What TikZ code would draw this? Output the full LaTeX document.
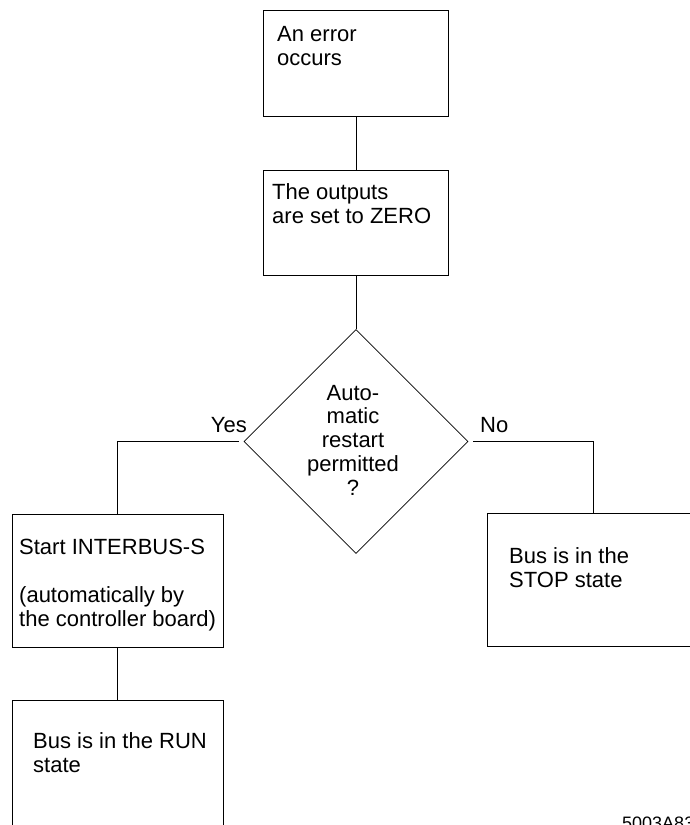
\documentclass[tikz,border=0pt]{standalone}
\usepackage{fontspec}
\setmainfont{Liberation Sans}
\usetikzlibrary{positioning,shapes.geometric}

\begin{document}
\begin{tikzpicture}[x=1pt, y=-1pt,
  box/.style={draw, line width=0.8pt, minimum width=185pt, minimum height=106pt, inner sep=0pt},
  wide/.style={box, minimum width=211pt, minimum height=133pt},
  dec/.style={draw, diamond, aspect=1, line width=0.7pt, minimum size=224pt, inner sep=0pt},
  txt/.style={anchor=base west, align=left, inner sep=0pt, font=\fontsize{22}{23.75}\selectfont},
  lnk/.style={line width=0.8pt}]
\clip (0,0) rectangle (690,825);
\node[box] (err) at (356,63) {};
\node[box, minimum height=105pt, below=54pt of err] (zero) {};
\node[dec, below=53pt of zero] (ask) {};
\node[wide] (start) at (117.5,580.5) {};
\node[wide] (stop) at (593,580) {};
\node[wide, below=53pt of start] (run) {};
\node[txt] (errtxt) at (277,65) {An error\\occurs};
\node[txt] (zerotxt) at (272,223) {The outputs\\are set to ZERO};
\node[txt, anchor=base, align=center] (asktxt) at (353,495) {Auto-\\matic\\restart\\permitted\\?};
\node[txt, anchor=base east] (yes) at (247,432) {Yes};
\node[txt] (no) at (480,432) {No};
\node[txt] (starttxt) at (19,626) {Start INTERBUS-S\\[23.75pt](automatically by\\the controller board)};
\node[txt] (stoptxt) at (509,587) {Bus is in the\\STOP state};
\node[txt] (runtxt) at (33,772) {Bus is in the RUN\\state};
\node[txt, font=\fontsize{18}{20}\selectfont] (code) at (622,829) {5003A83};
\draw[lnk] (err) -- (zero);
\draw[lnk] (zero) -- (ask);
\draw[lnk, shorten <=5pt] (ask.west) -| (start.north);
\draw[lnk, shorten <=5pt] (ask.east) -| (stop.north);
\draw[lnk] (start) -- (run);
\end{tikzpicture}
\end{document}
